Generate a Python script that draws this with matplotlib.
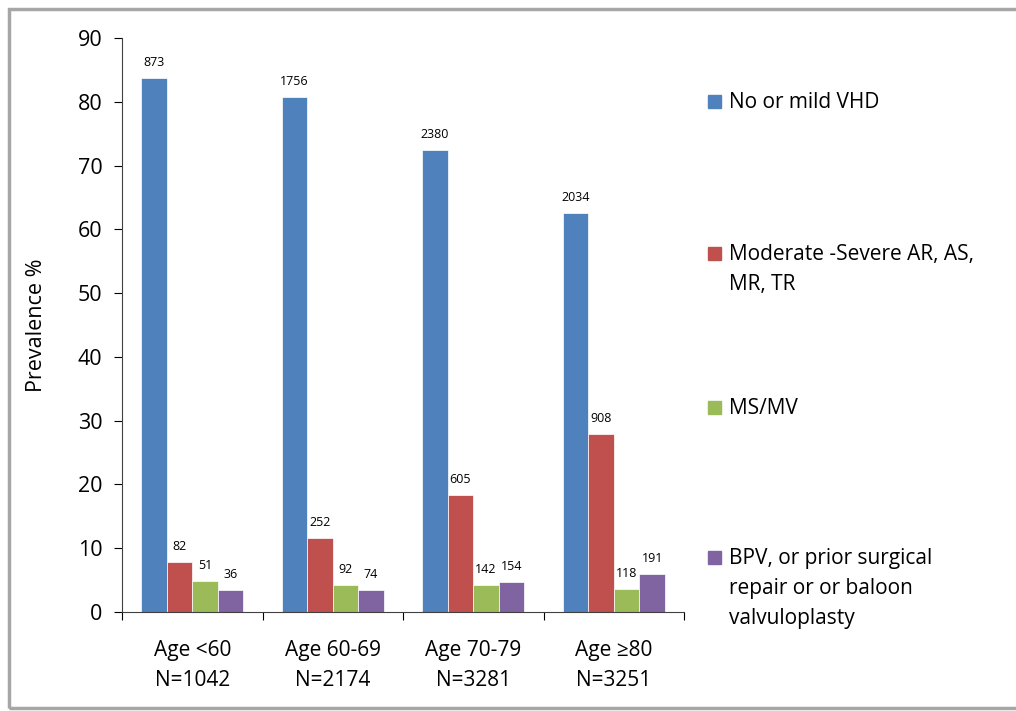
import matplotlib
matplotlib.use("Agg")
import matplotlib.pyplot as plt
from matplotlib.patches import Rectangle
import numpy as np

categories = ["Age <60\nN=1042", "Age 60-69\nN=2174", "Age 70-79\nN=3281", "Age \u226580\nN=3251"]
series_names = ["No or mild VHD", "Moderate -Severe AR, AS,\nMR, TR", "MS/MV",
                "BPV, or prior surgical\nrepair or or baloon\nvalvuloplasty"]
prevalence = [
    [83.8, 80.8, 72.5, 62.6],
    [7.9, 11.6, 18.4, 27.9],
    [4.9, 4.2, 4.3, 3.6],
    [3.5, 3.4, 4.7, 5.9],
]
counts = [
    [873, 1756, 2380, 2034],
    [82, 252, 605, 908],
    [51, 92, 142, 118],
    [36, 74, 154, 191],
]
colors = ["#4F81BD", "#C0504D", "#9BBB59", "#8064A2"]

plt.rcParams['font.family'] = ['Open Sans', 'DejaVu Sans']

fig = plt.figure(figsize=(10.16, 7.11), dpi=100)
W, H = 1016, 711
ax = fig.add_axes([122 / W, 1 - 612 / H, (684 - 122) / W, (612 - 38) / H])

# frame
fig.patches.append(Rectangle((9 / W, 3 / H), 1.2, 1 - 12 / H, transform=fig.transFigure,
                             fill=False, edgecolor="#A6A6A6", linewidth=2.5))

x = np.arange(len(categories))
bw = 0.182
for i, (vals, cnts, c) in enumerate(zip(prevalence, counts, colors)):
    pos = x - 1.5 * bw + i * bw
    ax.bar(pos, vals, width=bw, color=c, edgecolor="white", linewidth=0.5, label=series_names[i])
    for p, v, n in zip(pos, vals, cnts):
        ax.text(p, v + 1.4, str(n), ha="center", va="bottom", fontsize=9)

ax.set_xlim(-0.5, len(categories) - 0.5)
ax.set_ylim(0, 90)
ax.set_yticks(range(0, 91, 10))
ax.tick_params(axis="y", labelsize=15.5, length=6, direction="out", pad=8)
ax.set_xticks(np.arange(-0.5, len(categories), 1))
ax.set_xticklabels([])
ax.set_xticks(x, minor=True)
ax.set_xticklabels(categories, minor=True, fontsize=15, linespacing=1.55)
ax.tick_params(axis="x", which="minor", length=0, pad=20)
ax.tick_params(axis="x", which="major", length=6, direction="out")
for s in ["top", "right"]:
    ax.spines[s].set_visible(False)
for s in ["left", "bottom"]:
    ax.spines[s].set_color("#404040")
ax.set_ylabel("Prevalence %", fontsize=15.5, labelpad=22)

# legend
leg_y = [102, 254, 408, 558]
for name, c, yy in zip(series_names, colors, leg_y):
    fig.patches.append(Rectangle((708 / W, 1 - (yy + 6) / H), 13 / W, 13 / H,
                                 transform=fig.transFigure, color=c))
    fig.text(729 / W, 1 - (yy - 10) / H, name, fontsize=15, va="top", ha="left", linespacing=1.55)

fig.savefig("out.png", dpi=100)
